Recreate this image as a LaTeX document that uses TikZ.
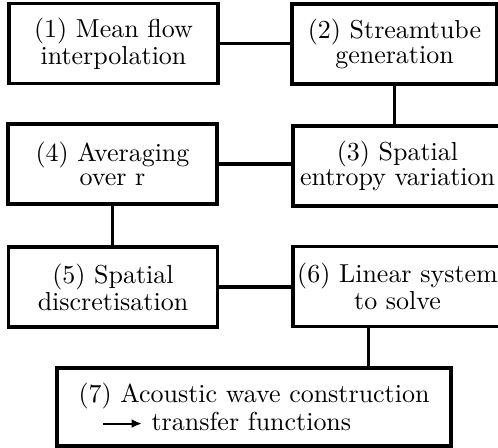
\documentclass[tikz,border=0pt]{standalone}
\usetikzlibrary{arrows.meta}

\tikzset{
  stage/.style={draw, very thick, rectangle, align=center, minimum width=80.5pt,
    minimum height=30.8pt, inner sep=1pt, font=\fontsize{10pt}{9.4pt}\selectfont},
  link/.style={very thick},
}
\newcommand{\leadsarrow}{\tikz[baseline=-0.6ex]\draw[thick,-{Latex[length=4pt,width=3.5pt]}] (0,0) -- (15pt,0);}

\begin{document}
\begin{tikzpicture}[x=0.385pt,y=-0.385pt]
\useasboundingbox (0,0) rectangle (498,448);

% the seven stages
\node[stage] (S1) at (113.5,43.5) {(1) Mean flow\\interpolation};
\node[stage, minimum width=78.9pt] (S2) at (394.5,44) {(2) Streamtube\\generation};
\node[stage] (S3) at (397.5,166) {(3) Spatial\\entropy variation};
\node[stage] (S4) at (112.5,164) {(4) Averaging\\over r};
\node[stage] (S5) at (113,287) {(5) Spatial\\discretisation};
\node[stage] (S6) at (397.5,286.5) {(6) Linear system\\to solve};
\node[stage, ultra thick, align=left, minimum width=151.7pt, minimum height=30pt] (S7) at (254,407)
  {(7) Acoustic wave construction\\\hspace*{0.9em}\leadsarrow\ transfer functions};

% links
\draw[link] (S1.east) -- (S1.east -| S2.west);
\draw[link] (S2.south) -- (S2.south |- S3.north);
\draw[link] (S4.east) -- (S4.east -| S3.west);
\draw[link] (S4.south) -- (S4.south |- S5.north);
\draw[link] (S5.east) -- (S5.east -| S6.west);
\draw[link] ([xshift=-11pt]S6.south) -- ([xshift=-11pt]S6.south |- S7.north);
\end{tikzpicture}
\end{document}
